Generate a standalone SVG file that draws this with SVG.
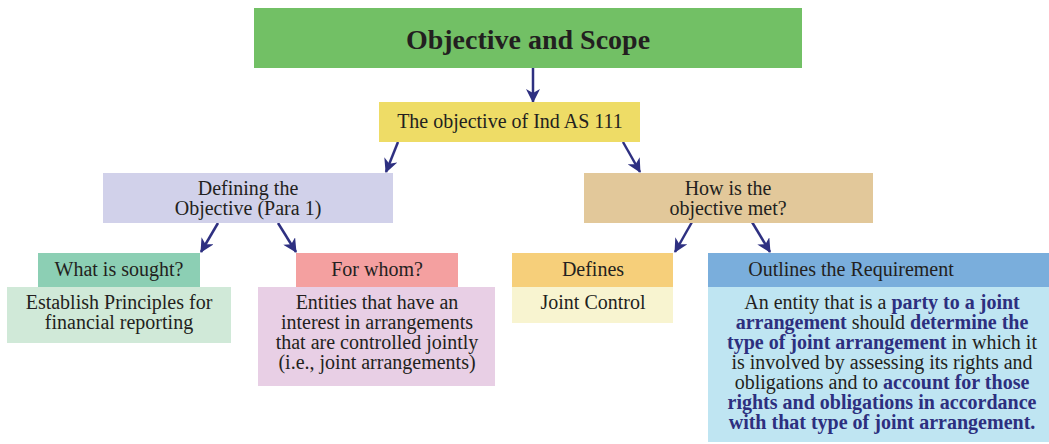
<svg xmlns="http://www.w3.org/2000/svg" width="1049" height="444" viewBox="0 0 1049 444">
<style>
text{font-family:"Liberation Serif","Times New Roman",serif;fill:#231f20;font-size:20px;text-anchor:middle}
.t{font-size:28px;font-weight:bold}
.b{font-weight:bold;fill:#2d2f7f}
.c{stroke:#2e3081;stroke-width:2.5;fill:none}
</style>
<defs>
<marker id="ah" viewBox="0 0 14 14" refX="13" refY="7" markerWidth="14" markerHeight="14" markerUnits="userSpaceOnUse" orient="auto">
<path d="M0,0 L14,7 L0,14 L4,7 z" fill="#2e3081"/>
</marker>
</defs>
<rect width="1049" height="444" fill="#fff"/>
<g id="connectors">
<line class="c" x1="533" y1="68" x2="533" y2="102" marker-end="url(#ah)"/>
<line class="c" x1="398" y1="142" x2="386" y2="172" marker-end="url(#ah)"/>
<line class="c" x1="623" y1="142" x2="640" y2="172" marker-end="url(#ah)"/>
<line class="c" x1="218" y1="223" x2="201" y2="252" marker-end="url(#ah)"/>
<line class="c" x1="278" y1="223" x2="296" y2="252" marker-end="url(#ah)"/>
<line class="c" x1="692" y1="222" x2="675" y2="252" marker-end="url(#ah)"/>
<line class="c" x1="752" y1="222" x2="770" y2="252" marker-end="url(#ah)"/>
</g>
<g id="title">
<rect x="254" y="8" width="548" height="60" fill="#72c065"/>
<text class="t" x="528" y="49">Objective and Scope</text>
</g>
<g id="objective">
<rect x="379" y="102" width="261" height="40" fill="#eedc66"/>
<text x="510" y="128">The objective of Ind AS 111</text>
</g>
<g id="defining">
<rect x="103" y="173" width="290" height="50" fill="#d1d1ea"/>
<text x="248" y="195">Defining the</text>
<text x="248" y="215">Objective (Para 1)</text>
</g>
<g id="how">
<rect x="584" y="173" width="289" height="50" fill="#e2c89a"/>
<text x="728" y="195">How is the</text>
<text x="728" y="215">objective met?</text>
</g>
<g id="sought">
<rect x="38" y="253" width="162" height="34" fill="#8ccfb4"/>
<text x="119" y="276">What is sought?</text>
</g>
<g id="establish">
<rect x="7" y="287" width="224" height="56" fill="#d0e9d8"/>
<text x="119" y="309">Establish Principles for</text>
<text x="119" y="329">financial reporting</text>
</g>
<g id="whom">
<rect x="296" y="253" width="162" height="34" fill="#f4a0a0"/>
<text x="377" y="276">For whom?</text>
</g>
<g id="entities">
<rect x="258" y="287" width="237" height="99" fill="#e8cfe5"/>
<text x="377" y="309">Entities that have an</text>
<text x="377" y="329">interest in arrangements</text>
<text x="377" y="349">that are controlled jointly</text>
<text x="377" y="369">(i.e., joint arrangements)</text>
</g>
<g id="defines">
<rect x="512" y="253" width="161" height="34" fill="#f6cf7a"/>
<text x="593" y="276">Defines</text>
</g>
<g id="joint-control">
<rect x="512" y="287" width="161" height="36" fill="#f8f4d0"/>
<text x="593" y="309">Joint Control</text>
</g>
<g id="outlines">
<rect x="708" y="253" width="341" height="34" fill="#7aaedc"/>
<text x="851" y="276">Outlines the Requirement</text>
</g>
<g id="requirement">
<rect x="708" y="287" width="341" height="155" fill="#bfe5f2"/>
<text x="882" y="309">An entity that is a <tspan class="b">party to a joint</tspan></text>
<text x="882" y="329"><tspan class="b">arrangement</tspan> should <tspan class="b">determine the</tspan></text>
<text x="882" y="349"><tspan class="b">type of joint arrangement</tspan> in which it</text>
<text x="882" y="369">is involved by assessing its rights and</text>
<text x="882" y="389">obligations and to <tspan class="b">account for those</tspan></text>
<text x="882" y="409"><tspan class="b">rights and obligations in accordance</tspan></text>
<text x="882" y="429"><tspan class="b">with that type of joint arrangement.</tspan></text>
</g>
</svg>
